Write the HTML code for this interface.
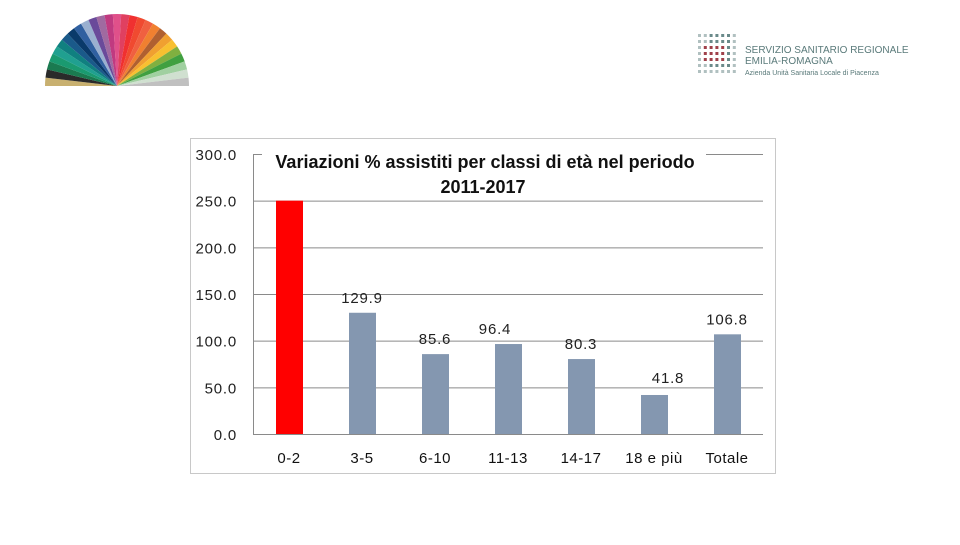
<!DOCTYPE html>
<html><head><meta charset="utf-8"><style>
body{margin:0;width:960px;height:540px;background:#fff;overflow:hidden;font-family:"Liberation Sans",sans-serif}
</style></head><body>
<svg width="960" height="540">
<g id="fan"></g>
<g>
<g id="dots"></g>
<text x="745" y="53" font-size="10" fill="#5a7a7a">SERVIZIO SANITARIO REGIONALE</text>
<text x="745" y="64" font-size="10" fill="#5a7a7a">EMILIA-ROMAGNA</text>
<text x="745" y="75" font-size="7" fill="#5a7a7a">Azienda Unità Sanitaria Locale di Piacenza</text>
</g>
<rect x="190.5" y="138.5" width="585" height="335" fill="#fff" stroke="#c8c8c8"/>
<g id="chart"></g>
</svg>
<script>
const ns="http://www.w3.org/2000/svg";
function mk(p,t,a){const e=document.createElementNS(ns,t);for(const k in a)e.setAttribute(k,a[k]);p.appendChild(e);return e;}
const fan=document.getElementById('fan');
const fc=["#c8b070","#2a2a2a","#1a7a50","#1a9a70","#20a090","#108080","#1a5a8a","#0a3a6a","#3060a0","#9ab0d0","#6a4a9a","#a06aa0","#c03a80","#e0508a","#e04060","#f03030","#f04a30","#f06040","#f08030","#b06030","#f0a030","#f8c030","#80b040","#40a040","#a0d0a0","#d0e0d0","#c0c0c0"];
for(let i=0;i<fc.length;i++){const a0=Math.PI*(1-i/fc.length),a1=Math.PI*(1-(i+1)/fc.length),cx=117,cy=86,r=72;
mk(fan,'path',{d:`M${cx},${cy}L${cx+r*Math.cos(a0)},${cy-r*Math.sin(a0)}A${r},${r} 0 0 1 ${cx+r*Math.cos(a1)},${cy-r*Math.sin(a1)}Z`,fill:fc[i]});}
const dots=document.getElementById('dots');
for(let r=0;r<7;r++)for(let c=0;c<7;c++){const red=(r>=2&&r<=4&&c>=1&&c<=4);
mk(dots,'rect',{x:698+c*5.8,y:34+r*6,width:3,height:3,fill:red?"#a0404a":(c>=2&&c<=5&&r<=5?"#6a8a8a":"#b0c0c0")});}
const categories=["0-2","3-5","6-10","11-13","14-17","18 e più","Totale"];
const values=[250,129.9,85.6,96.4,80.3,41.8,106.8];
const labels=["","129.9","85.6","96.4","80.3","41.8","106.8"];
const ticks=[0,50,100,150,200,250,300];
const g=document.getElementById('chart');
const y=v=>434-v*(280/300);
const x=i=>289+i*73;
ticks.forEach(t=>{
 if(t>0){const l=mk(g,'line',{x1:253,x2:763,y1:y(t)+0.5,y2:y(t)+0.5,stroke:"#8a8a8a","stroke-width":1});
 }
 const tx=mk(g,'text',{x:237,y:y(t)+6,"text-anchor":"end","font-size":15,"letter-spacing":0.8,fill:"#222"});tx.textContent=t.toFixed(1);
 
});
const ax=mk(g,'line',{x1:253.5,x2:253.5,y1:154,y2:434,stroke:"#8a8a8a"});

const bx=mk(g,'line',{x1:253,x2:763,y1:434.5,y2:434.5,stroke:"#8a8a8a"});

values.forEach((v,i)=>{
 const b=mk(g,'rect',{x:x(i)-13,y:y(v),width:27,height:434-y(v),fill:i==0?"#ff0000":"#8497b0"});
 
 const c=mk(g,'text',{x:x(i),y:463,"text-anchor":"middle","font-size":15,"letter-spacing":0.5,fill:"#111"});c.textContent=categories[i];
 
 if(labels[i]){const dx=[0,0,0,-13,0,14,0][i],dy=[0,-10,-10,-10,-10,-12,-10][i];
 const t=mk(g,'text',{x:x(i)+dx,y:y(v)+dy,"text-anchor":"middle","font-size":15,"letter-spacing":0.8,fill:"#222"});t.textContent=labels[i];
 }
});
const tb=mk(g,'rect',{x:262,y:145,width:444,height:52,fill:"#fff"});

const t1=mk(g,'text',{x:485,y:168,"text-anchor":"middle","font-size":18,"font-weight":"bold",fill:"#111"});t1.textContent="Variazioni % assistiti per classi di età nel periodo";

const t2=mk(g,'text',{x:483,y:193,"text-anchor":"middle","font-size":18,"font-weight":"bold",fill:"#111"});t2.textContent="2011-2017";

</script>
</body></html>
